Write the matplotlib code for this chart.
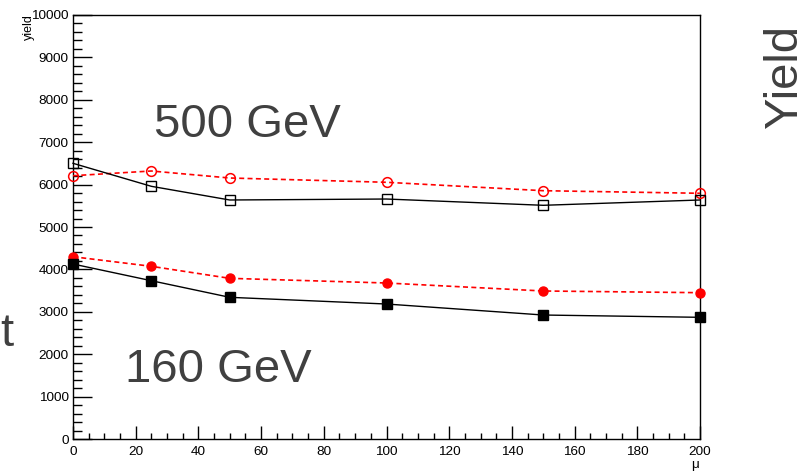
import matplotlib
matplotlib.use('Agg')
import matplotlib.pyplot as plt
from matplotlib.ticker import MultipleLocator

plt.rcParams['font.family'] = ['Liberation Sans', 'DejaVu Sans']

# yield vs pile-up mu, two mass points, two selections each
mu = [0, 25, 50, 100, 150, 200]
yield_500_black = [6500, 5958, 5636, 5659, 5511, 5636]
yield_500_red = [6208, 6319, 6154, 6053, 5855, 5794]
yield_160_red = [4300, 4074, 3791, 3681, 3493, 3453]
yield_160_black = [4128, 3735, 3344, 3186, 2927, 2873]

W, H = 812, 475


def fx(x):
    return x / W


def fy(y):
    return 1 - y / H


fig = plt.figure(figsize=(W / 100, H / 100), dpi=100)
ax = fig.add_axes([fx(73), fy(439.3), (700 - 73) / W, (439.3 - 14.7) / H])

ax.plot(mu, yield_500_red, color='red', ls=(0, (3, 2)), lw=1.2, marker='o',
        ms=7, mfc='none', mec='red', mew=1.1, zorder=3, clip_on=False)
ax.plot(mu, yield_500_black, color='black', ls='-', lw=1.0, marker='s',
        ms=7, mfc='none', mec='black', mew=1.0, zorder=3, clip_on=False)
ax.plot(mu, yield_160_red, color='red', ls=(0, (3, 2)), lw=1.2, marker='o',
        ms=6.5, mfc='red', mec='red', zorder=3, clip_on=False)
ax.plot(mu, yield_160_black, color='black', ls='-', lw=1.0, marker='s',
        ms=6.5, mfc='black', mec='black', zorder=3, clip_on=False)

ax.set_xlim(0, 200)
ax.set_ylim(0, 10000)
ax.xaxis.set_major_locator(MultipleLocator(20))
ax.xaxis.set_minor_locator(MultipleLocator(5))
ax.yaxis.set_major_locator(MultipleLocator(1000))
ax.yaxis.set_minor_locator(MultipleLocator(200))

ax.tick_params(axis='x', which='major', direction='in', length=9.1, width=1,
               labelsize=9.7, pad=5)
ax.tick_params(axis='x', which='minor', direction='in', length=4.6, width=1)
ax.tick_params(axis='y', which='major', direction='in', length=13.5, width=1,
               labelsize=9.7, pad=3)
ax.tick_params(axis='y', which='minor', direction='in', length=6.8, width=1)
for s in ax.spines.values():
    s.set_linewidth(1.0)

# axis titles, ROOT style
fig.text(fx(28.5), fy(14), 'yield', rotation=90, ha='center', va='top', fontsize=9)
fig.text(fx(695), fy(465), '\u03bc', ha='center', va='center', fontsize=9.7)

grey = '#404040'
fig.text(fx(154), fy(137), '500 GeV', ha='left', va='baseline', fontsize=34, color=grey)
fig.text(fx(125), fy(382), '160 GeV', ha='left', va='baseline', fontsize=34, color=grey)
fig.text(fx(797), fy(128), 'Yield', rotation=90, rotation_mode='anchor',
         ha='left', va='baseline', fontsize=34, color=grey)
fig.text(fx(13.5), fy(346), 't', ha='right', va='baseline', fontsize=34, color=grey)

fig.savefig('out.png', dpi=100)
